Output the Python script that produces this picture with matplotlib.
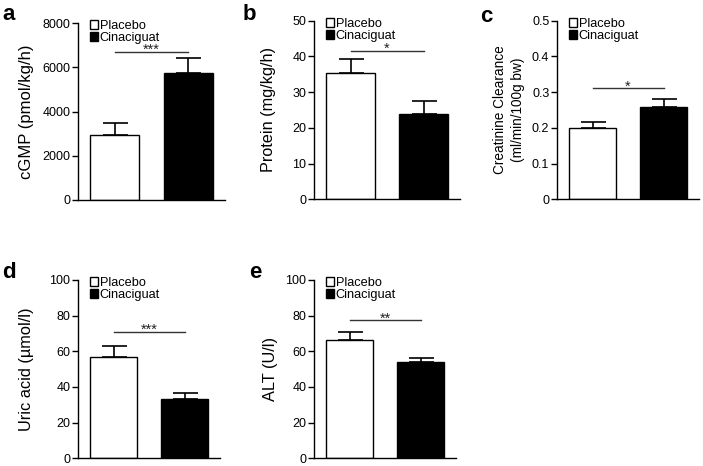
import matplotlib
matplotlib.use("Agg")
import matplotlib.pyplot as plt
from matplotlib.patches import Patch

plt.rcParams['font.family'] = ['Liberation Sans', 'DejaVu Sans']

groups = ["Placebo", "Cinaciguat"]

cgmp = [2950, 5720]
cgmp_err = [540, 720]

protein = [35.3, 24.0]
protein_err = [3.9, 3.5]

creat = [0.201, 0.259]
creat_err = [0.015, 0.021]

uric = [57.0, 33.0]
uric_err = [5.9, 3.5]

alt = [66.3, 53.9]
alt_err = [4.6, 2.2]

panels = [
    # letter, values, errors, ylabel, ymax, ystep, stars, sig height
    ("a", cgmp, cgmp_err, "cGMP (pmol/kg/h)", 8000, 2000, "***", 6700),
    ("b", protein, protein_err, "Protein (mg/kg/h)", 50, 10, "*", 41.6),
    ("c", creat, creat_err, "Creatinine Clearance\n(ml/min/100g bw)", 0.5, 0.1, "*", 0.311),
    ("d", uric, uric_err, "Uric acid (\u00b5mol/l)", 100, 20, "***", 71),
    ("e", alt, alt_err, "ALT (U/l)", 100, 20, "**", 77.6),
]

W, H = 703, 466
# axes boxes in pixels: left, right, top, bottom
boxes = [(78, 225, 23, 200), (314, 460, 20.7, 199.3), (557, 699, 20.7, 199.3),
         (78, 220, 280, 458.3), (314, 456, 280, 458.3)]
letter_pos = [(9, 15), (249, 15), (486, 17), (9, 272), (255, 272)]
ylabel_x = [27, 268, 509, 27, 270]
ylabel_size = [12, 11.7, 9.8, 11.8, 11.8]

fig = plt.figure(figsize=(W / 100, H / 100), dpi=100)

for (letter, vals, errs, ylab, ymax, ystep, stars, sig), (l, r, t, b), lp, yx, ys in zip(
        panels, boxes, letter_pos, ylabel_x, ylabel_size):
    ax = fig.add_axes([l / W, 1 - b / H, (r - l) / W, (b - t) / H])
    x = [0, 1]
    ax.bar(x, vals, width=0.67, color=["white", "black"], edgecolor="black",
           linewidth=1.0, zorder=2)
    ax.errorbar(x, vals, yerr=[[0, 0], errs], fmt="none", ecolor="black",
                elinewidth=1.2, capsize=9, capthick=1.2, zorder=1)
    ax.plot([0.0, 1.0], [sig, sig], color="#333333", linewidth=1.0)
    ax.annotate(stars, (0.5, sig), xytext=(0, -1.7), textcoords="offset points",
                ha="center", va="baseline", fontsize=10.5, color="#222222")
    ax.set_xlim(-0.5, 1.5)
    ax.set_ylim(0, ymax)
    ticks = [i * ystep for i in range(int(round(ymax / ystep)) + 1)]
    ax.set_yticks(ticks)
    if ystep < 1:
        ax.set_yticklabels(["0"] + ["%.1f" % v for v in ticks[1:]])
    ax.set_xticks([])
    for s in ["top", "right"]:
        ax.spines[s].set_visible(False)
    ax.spines["left"].set_linewidth(1.0)
    ax.spines["bottom"].set_linewidth(1.0)
    ax.tick_params(axis="y", direction="out", length=4, width=1.0, labelsize=9, pad=1.5)
    ax.set_ylabel(ylab, fontsize=ys, linespacing=1.3)
    ax.yaxis.set_label_coords((yx - l) / (r - l), 0.5)
    ax.yaxis.label.set_va("center")
    handles = [Patch(facecolor="white", edgecolor="black", linewidth=1.0),
               Patch(facecolor="black", edgecolor="black", linewidth=1.0)]
    ax.legend(handles, groups, loc="upper left", frameon=False, fontsize=9.2,
              bbox_to_anchor=(12 / (r - l), 1 + 3 / (b - t)), borderpad=0,
              borderaxespad=0, handlelength=0.6, handleheight=0.7,
              handletextpad=0.15, labelspacing=0.0)
    fig.text(lp[0] / W, 1 - lp[1] / H, letter, fontsize=16, fontweight="bold",
             ha="center", va="center")

fig.savefig("out.png", dpi=100)
